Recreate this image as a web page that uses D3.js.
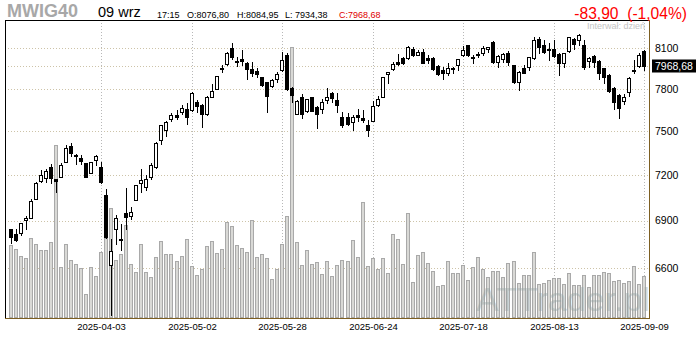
<!DOCTYPE html>
<html><head><meta charset="utf-8">
<script src="https://cdn.jsdelivr.net/npm/d3@7"></script>
<style>body{margin:0;background:#fff}svg{display:block}</style>
</head><body>
<svg id="c" width="700" height="340"></svg>
<script>
const dates = [
"2025-03-10","2025-03-11","2025-03-12","2025-03-13","2025-03-14","2025-03-17","2025-03-18","2025-03-19","2025-03-20","2025-03-21",
"2025-03-24","2025-03-25","2025-03-26","2025-03-27","2025-03-28","2025-03-31","2025-04-01","2025-04-02","2025-04-03","2025-04-04",
"2025-04-07","2025-04-08","2025-04-09","2025-04-10","2025-04-11","2025-04-14","2025-04-15","2025-04-16","2025-04-17","2025-04-22",
"2025-04-23","2025-04-24","2025-04-25","2025-04-28","2025-04-29","2025-04-30","2025-05-02","2025-05-05","2025-05-06","2025-05-07",
"2025-05-08","2025-05-09","2025-05-12","2025-05-13","2025-05-14","2025-05-15","2025-05-16","2025-05-19","2025-05-20","2025-05-21",
"2025-05-22","2025-05-23","2025-05-26","2025-05-27","2025-05-28","2025-05-29","2025-05-30","2025-06-02","2025-06-03","2025-06-04",
"2025-06-05","2025-06-06","2025-06-09","2025-06-10","2025-06-11","2025-06-12","2025-06-13","2025-06-16","2025-06-17","2025-06-18",
"2025-06-20","2025-06-23","2025-06-24","2025-06-25","2025-06-26","2025-06-27","2025-06-30","2025-07-01","2025-07-02","2025-07-03",
"2025-07-04","2025-07-07","2025-07-08","2025-07-09","2025-07-10","2025-07-11","2025-07-14","2025-07-15","2025-07-16","2025-07-17",
"2025-07-18","2025-07-21","2025-07-22","2025-07-23","2025-07-24","2025-07-25","2025-07-28","2025-07-29","2025-07-30","2025-07-31",
"2025-08-01","2025-08-04","2025-08-05","2025-08-06","2025-08-07","2025-08-08","2025-08-11","2025-08-12","2025-08-13","2025-08-14",
"2025-08-18","2025-08-19","2025-08-20","2025-08-21","2025-08-22","2025-08-25","2025-08-26","2025-08-27","2025-08-28","2025-08-29",
"2025-09-01","2025-09-02","2025-09-03","2025-09-04","2025-09-05","2025-09-08","2025-09-09"];

const open = [6844,6811,6819,6902,6919,7042,7161,7182,7251,7171,7188,7289,7396,7331,7313,7280,7211,7300,7251,7068,
6620,6844,6783,6948,6932,7032,7143,7116,7188,7251,7435,7509,7584,7612,7631,7653,7646,7703,7684,7618,
7744,7800,7948,7980,8100,8008,8020,7988,7945,7933,7884,7850,7818,7872,7936,8049,7804,7621,7742,7643,
7738,7667,7658,7717,7770,7719,7598,7598,7565,7610,7589,7543,7572,7681,7744,7912,7945,7995,8025,8025,
8097,8052,8070,8025,8027,7968,7938,7918,7950,7976,8047,8122,8037,8047,8067,8095,8148,7999,8022,8067,
7975,7852,7956,7962,8025,8170,8125,8095,8092,8060,7992,8082,8168,8160,8125,8008,8042,8004,7950,7902,
7807,7759,7714,7776,7938,7968,8076.80];
const high = [6848,6846,6885,6930,7041,7154,7233,7238,7273,7173,7282,7403,7415,7340,7331,7282,7287,7336,7287,7103,
6783,6936,6879,7110,6987,7132,7238,7197,7277,7423,7545,7570,7624,7648,7683,7695,7776,7719,7691,7748,
7835,7896,7976,8070,8138,8032,8087,7995,7995,7950,7888,7852,7872,7926,8070,8062,7817,7719,7760,7728,
7742,7676,7724,7807,7776,7770,7634,7629,7612,7653,7648,7577,7710,7745,7888,7922,7998,8057,8037,8117,
8112,8087,8095,8050,8032,7975,7962,7988,7962,8020,8120,8125,8050,8075,8117,8108,8156,8052,8062,8080,
7975,7927,7975,8037,8188,8183,8163,8140,8163,8062,8062,8188,8175,8207,8163,8037,8050,8012,7955,7907,
7812,7764,7764,7888,8012,8062,8084.95];
const low = [6760,6771,6805,6848,6915,7039,7154,7150,7143,7089,7184,7287,7329,7271,7273,7184,7209,7266,7147,6790,
6317,6750,6714,6846,6908,7030,7083,7097,7171,7249,7412,7467,7572,7586,7617,7549,7643,7636,7530,7615,
7741,7797,7923,7975,8020,7970,7976,7872,7897,7890,7822,7636,7815,7852,7931,7795,7707,7617,7594,7636,
7639,7519,7630,7700,7707,7634,7530,7542,7507,7570,7560,7467,7572,7676,7741,7844,7938,7976,7985,8022,
8042,8047,7987,7987,7938,7902,7869,7902,7914,7940,8045,8045,7992,8032,8050,8070,7987,7962,7999,7976,
7840,7788,7914,7938,8017,8067,8062,8012,8037,7902,7957,8075,8092,8125,7945,7962,7962,7872,7846,7776,
7655,7594,7688,7746,7914,7962,7934.38];
const close = [6798,6774,6883,6919,7028,7143,7199,7224,7177,7160,7266,7380,7347,7324,7290,7188,7285,7324,7155,6792,
6708,6915,6775,6926,6954,7130,7166,7173,7266,7418,7545,7565,7612,7600,7664,7600,7772,7679,7618,7744,
7786,7894,7955,8062,8037,8004,8008,7943,7914,7907,7827,7750,7864,7908,8010,7800,7758,7712,7618,7724,
7643,7618,7703,7742,7735,7686,7540,7547,7596,7596,7579,7507,7676,7726,7884,7920,7982,7986,7992,8108,
8050,8075,7992,8015,7943,7908,7914,7953,7943,8018,8085,8047,8025,8055,8105,8108,7995,8042,8055,7995,
7852,7922,7916,8035,8163,8112,8070,8087,8045,7987,8062,8183,8133,8202,7962,8025,7999,7914,7890,7784,
7702,7660,7738,7881,7928,8050,7968.68];
const volume = [73,69,62,60,80,74,68,68,76,173,51,74,58,54,50,24,51,42,66,80,
110,58,64,93,54,46,74,46,41,61,77,64,64,57,62,79,52,43,49,72,
77,65,69,96,92,73,70,66,98,61,64,60,39,49,74,102,271,76,53,68,
54,56,44,57,42,53,58,57,78,61,116,52,60,49,60,45,84,79,54,105,
36,63,66,55,47,32,33,57,45,45,53,38,51,61,49,41,47,47,41,55,
57,35,43,43,66,34,35,38,40,40,34,45,33,33,43,31,43,43,46,45,
37,38,35,37,52,34,42];
const priceTicks = [6600,6900,7200,7500,7800,8100];
const dateTicks = ["2025-04-03","2025-05-02","2025-05-28","2025-06-24","2025-07-18","2025-08-13","2025-09-09"];
const lastClose = 7968.68;

const L = 5, R = 649, T = 20, B = 318;
const svg = d3.select("#c");
const FONT = "'Liberation Sans', Arial, sans-serif";

const x = d3.scaleBand().domain(dates).range([8, 646.8]);
const cx = d => Math.round(x(d) + x.bandwidth() / 2);
const y = d3.scaleLog().domain([6301.6, 8316.2]).range([B, T]);
const yv = d3.scaleLinear().domain([0, d3.max(volume) * 1.1]).range([B, T]);

const defs = svg.append("defs");
defs.append("clipPath").attr("id", "clip").append("rect")
  .attr("x", L + 1).attr("y", T + 1).attr("width", R - L - 1).attr("height", B - T - 1);

const plot = svg.append("g").attr("clip-path", "url(#clip)");

// horizontal grid
plot.selectAll("line.hg").data(priceTicks.concat([lastClose])).join("line")
  .attr("x1", L).attr("x2", R)
  .attr("y1", d => Math.round(y(d)) + 0.5).attr("y2", d => Math.round(y(d)) + 0.5)
  .attr("stroke", "#cdc3a8").attr("stroke-dasharray", "1,2");
// vertical grid
plot.selectAll("line.vg").data(dateTicks).join("line")
  .attr("x1", d => cx(d) + 0.5).attr("x2", d => cx(d) + 0.5)
  .attr("y1", T).attr("y2", B)
  .attr("stroke", "#b8b8b8").attr("stroke-dasharray", "1,2");

// volume bars
plot.selectAll("rect.vol").data(dates).join("rect")
  .attr("x", d => cx(d) - 1.5)
  .attr("y", (d, i) => Math.round(yv(volume[i])) + 0.5)
  .attr("width", 3)
  .attr("height", (d, i) => Math.max(0, B - 0.5 - (Math.round(yv(volume[i])) + 0.5)))
  .attr("fill", "#d9d9d6").attr("stroke", "#a9a9a9").attr("stroke-width", 1);

// watermark
plot.append("text").attr("x", 476).attr("y", 311)
  .attr("font-family", FONT).attr("font-size", 34)
  .attr("fill", "#8fa0a0").attr("fill-opacity", 0.4)
  .text("ATTrader.pl");

// "Interwał: dzień"
plot.append("text").attr("x", 587).attr("y", 29)
  .attr("font-family", FONT).attr("font-size", 9).attr("fill", "#c4c4c4")
  .text("Interwał: dzień");

// candles
const cg = plot.append("g");
cg.selectAll("line.wick").data(dates).join("line")
  .attr("x1", d => cx(d) + 0.5).attr("x2", d => cx(d) + 0.5)
  .attr("y1", (d, i) => Math.round(y(high[i])))
  .attr("y2", (d, i) => Math.round(y(low[i])) + 1)
  .attr("stroke", "#000");
cg.selectAll("rect.body").data(dates).join("rect")
  .attr("x", d => cx(d) - 1.5)
  .attr("y", (d, i) => Math.round(y(Math.max(open[i], close[i]))) + 0.5)
  .attr("width", 3)
  .attr("height", (d, i) => Math.max(1, Math.round(y(Math.min(open[i], close[i]))) - Math.round(y(Math.max(open[i], close[i])))))
  .attr("fill", (d, i) => close[i] >= open[i] ? "#fff" : "#000")
  .attr("stroke", "#000");

// frame
svg.append("line").attr("x1", L).attr("x2", R + 1).attr("y1", T + 0.5).attr("y2", T + 0.5).attr("stroke", "#000");
svg.append("line").attr("x1", L + 0.5).attr("x2", L + 0.5).attr("y1", T).attr("y2", B).attr("stroke", "#000");
svg.append("line").attr("x1", R + 0.5).attr("x2", R + 0.5).attr("y1", T).attr("y2", B + 1).attr("stroke", "#7d5f22");
svg.append("line").attr("x1", L).attr("x2", R + 1).attr("y1", B + 0.5).attr("y2", B + 0.5).attr("stroke", "#7d5f22");

// y axis
const ya = svg.append("g").attr("transform", `translate(${R},0)`)
  .call(d3.axisRight(y).tickValues(priceTicks).tickFormat(d3.format("d")).tickSize(0).tickPadding(6));
ya.select(".domain").remove();
ya.selectAll("text").attr("font-family", FONT).attr("font-size", 10.5).attr("fill", "#000");

// x axis
const xa = svg.append("g").attr("transform", `translate(0,${B})`)
  .call(d3.axisBottom(x).tickValues(dateTicks).tickSize(0).tickPadding(5));
xa.select(".domain").remove();
xa.selectAll(".tick").attr("transform", d => `translate(${cx(d) + 0.5},0)`);
xa.selectAll("text").attr("font-family", FONT).attr("font-size", 9.5).attr("fill", "#000");

// last price box
const ly = y(lastClose);
svg.append("rect").attr("x", 652).attr("y", Math.round(ly) - 6.5).attr("width", 44).attr("height", 13).attr("fill", "#000");
svg.append("text").attr("x", 655).attr("y", ly).attr("dy", "0.35em")
  .attr("font-family", FONT).attr("font-size", 10.5).attr("fill", "#fff")
  .text(d3.format(".2f")(lastClose).replace(".", ","));

// header
svg.append("text").attr("x", 7).attr("y", 17).attr("font-family", FONT)
  .attr("font-size", 18).attr("font-weight", "bold").attr("fill", "#a8a8a8").text("MWIG40");
svg.append("text").attr("x", 98).attr("y", 17).attr("font-family", FONT)
  .attr("font-size", 14.5).attr("fill", "#000").text("09 wrz");
const fmt = v => d3.format(".2f")(v).replace(".", ",");
const n = dates.length - 1;
const hdr = [
  {x: 157, t: "17:15", c: "#000"},
  {x: 187, t: "O:" + fmt(open[n]), c: "#000"},
  {x: 237, t: "H:" + fmt(high[n]), c: "#000"},
  {x: 285, t: "L: " + fmt(low[n]), c: "#000"},
  {x: 339, t: "C:" + fmt(close[n]), c: "#e00000"}
];
svg.selectAll("text.hdr").data(hdr).join("text")
  .attr("x", d => d.x).attr("y", 17.5)
  .attr("font-family", FONT).attr("font-size", 9).attr("fill", d => d.c).text(d => d.t);

svg.append("text").attr("x", 687).attr("y", 18.5).attr("text-anchor", "end")
  .attr("font-family", FONT).attr("font-size", 15.6).attr("fill", "#ff0000")
  .attr("xml:space", "preserve")
  .text("-83,90  (-1,04%)");
</script>
</body></html>
